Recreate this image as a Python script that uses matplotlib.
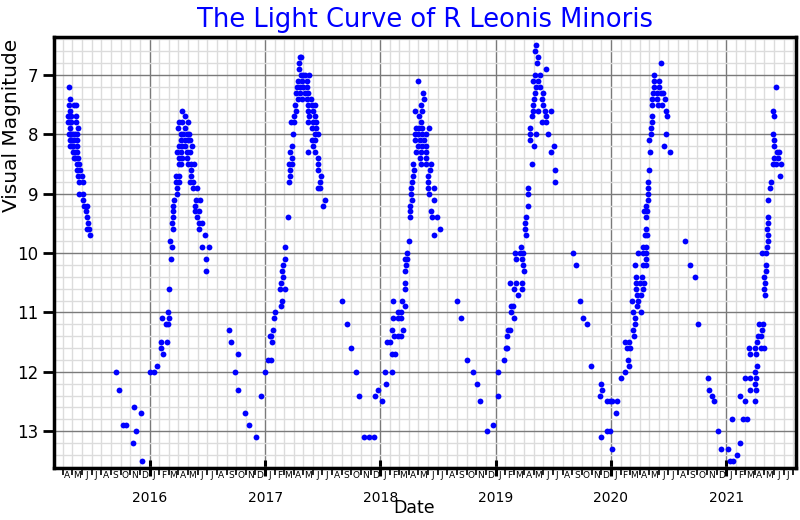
import numpy as np
import pandas as pd
import matplotlib
matplotlib.use("Agg")
import matplotlib.pyplot as plt
import matplotlib.dates as mdates
from matplotlib.ticker import MultipleLocator

# -----------------------------
# DATA: (days since 2015-01-01, visual magnitude)
# -----------------------------
obs_2015 = [(110, 7.2), (113, 7.4), (110, 7.5), (125, 7.5), (133, 7.5), (113, 7.6),
            (107, 7.7), (110, 7.7), (117, 7.7), (131, 7.7), (107, 7.8), (113, 7.8),
            (117, 7.8), (131, 7.8), (113, 7.9), (138, 7.9), (108, 8.0), (113, 8.0),
            (116, 8.0), (121, 8.0), (129, 8.0), (134, 8.0), (113, 8.1), (117, 8.1),
            (125, 8.1), (134, 8.1), (113, 8.2), (118, 8.2), (123, 8.2), (134, 8.2),
            (123, 8.3), (128, 8.3), (134, 8.3), (124, 8.4), (129, 8.4), (139, 8.4),
            (134, 8.5), (142, 8.5), (134, 8.6), (144, 8.6), (139, 8.7), (150, 8.7),
            (142, 8.8), (155, 8.8), (142, 9.0), (155, 9.0), (153, 9.1), (158, 9.2),
            (168, 9.2), (163, 9.3), (168, 9.4), (171, 9.5), (168, 9.6), (174, 9.6),
            (176, 9.7),
            (258, 12.0), (268, 12.3), (280, 12.9), (290, 12.9), (312, 13.2), (315, 12.6),
            (322, 13.0), (337, 12.7), (341, 13.5)]

obs_2016 = [(366, 12.0), (378, 12.0), (388, 11.9), (401, 11.6), (407, 11.7),
            (400, 11.5), (419, 11.5), (416, 11.2), (423, 11.2), (404, 11.1), (427, 11.1),
            (423, 11.0), (425, 10.6), (433, 10.1), (435, 9.9), (431, 9.8), (440, 9.6),
            (437, 9.5), (440, 9.4), (438, 9.3), (440, 9.2), (442, 9.1), (452, 9.0),
            (452, 8.9), (448, 8.8), (457, 8.8), (448, 8.7), (459, 8.7), (457, 8.5),
            (465, 8.5), (459, 8.4), (467, 8.4), (452, 8.3), (465, 8.3), (459, 8.2),
            (469, 8.2), (454, 7.9), (477, 7.9), (457, 7.8), (467, 7.8), (488, 7.8),
            (469, 7.6), (476, 7.7), (463, 8.0), (471, 8.0), (482, 8.0), (490, 8.0),
            (463, 8.1), (476, 8.1), (487, 8.1), (492, 8.1), (478, 8.2), (498, 8.2),
            (482, 8.3), (493, 8.3), (484, 8.4), (486, 8.5), (495, 8.5), (505, 8.5),
            (496, 8.6), (497, 8.7), (493, 8.8), (503, 8.8), (503, 8.9), (516, 8.9),
            (511, 9.1), (524, 9.1), (509, 9.2), (509, 9.3), (520, 9.3), (514, 9.4),
            (520, 9.5), (530, 9.5), (522, 9.6), (541, 9.7), (530, 9.9), (552, 9.9),
            (543, 10.1), (545, 10.3),
            (616, 11.3), (622, 11.5), (635, 12.0), (644, 11.7), (644, 12.3), (667, 12.7),
            (679, 12.9), (701, 13.1), (717, 12.4), (730, 12.0)]

obs_2017 = [(739, 11.8), (749, 11.8), (745, 11.4), (749, 11.4), (752, 11.5), (756, 11.3),
            (758, 11.1), (763, 11.0), (780, 10.9), (784, 10.8), (777, 10.6), (794, 10.6),
            (780, 10.5), (786, 10.4), (784, 10.3), (788, 10.2), (794, 10.1), (793, 9.9),
            (804, 9.4), (807, 8.8), (811, 8.7), (811, 8.6), (807, 8.5), (815, 8.5),
            (815, 8.4), (811, 8.3), (817, 8.2), (820, 8.0), (814, 7.8), (822, 7.8),
            (822, 7.7), (830, 7.6), (825, 7.5), (835, 7.4), (846, 7.4), (862, 7.4),
            (875, 7.4), (830, 7.3), (841, 7.3), (856, 7.3), (867, 7.3), (832, 7.2),
            (841, 7.2), (851, 7.2), (864, 7.2), (835, 7.1), (846, 7.1), (862, 7.1),
            (843, 7.0), (851, 7.0), (858, 7.0), (870, 7.0), (839, 6.9), (839, 6.8),
            (841, 6.7), (844, 6.7), (867, 7.5), (878, 7.5), (888, 7.5), (867, 7.6),
            (883, 7.6), (870, 7.7), (888, 7.7), (867, 7.8), (883, 7.8), (891, 7.8),
            (879, 7.9), (893, 7.9), (888, 8.0), (899, 8.0), (878, 8.1), (889, 8.1),
            (883, 8.2), (867, 8.3), (889, 8.3), (899, 8.4), (899, 8.5), (898, 8.6),
            (907, 8.7), (904, 8.8), (899, 8.9), (904, 8.9), (921, 9.1), (915, 9.2),
            (974, 10.8), (989, 11.2), (1002, 11.6), (1018, 12.0), (1027, 12.4),
            (1043, 13.1), (1059, 13.1), (1075, 13.1)]

obs_2018 = [(1080, 12.4), (1087, 12.3), (1100, 12.5), (1109, 12.0), (1132, 12.0),
            (1113, 12.2), (1134, 11.7), (1142, 11.7), (1117, 11.5), (1125, 11.5),
            (1139, 11.4), (1152, 11.4), (1162, 11.4), (1133, 11.3), (1168, 11.3),
            (1136, 11.1), (1152, 11.1), (1162, 11.1), (1152, 11.0), (1162, 11.0),
            (1173, 10.9), (1136, 10.8), (1164, 10.8), (1175, 10.6), (1173, 10.5),
            (1173, 10.3), (1176, 10.2), (1173, 10.1), (1180, 10.1), (1181, 10.0),
            (1187, 9.8), (1189, 9.3), (1191, 9.4), (1191, 9.2), (1197, 9.1), (1194, 9.0),
            (1193, 8.9), (1197, 8.8), (1199, 8.7), (1201, 8.6), (1199, 8.5), (1208, 8.3),
            (1215, 8.2), (1205, 8.1), (1205, 8.0), (1208, 7.9), (1206, 7.6), (1216, 7.1),
            (1231, 7.3), (1235, 7.4), (1223, 7.5), (1227, 7.6), (1218, 7.7), (1223, 7.8),
            (1218, 7.9), (1229, 7.9), (1250, 7.9), (1215, 8.0), (1229, 8.0), (1239, 8.0),
            (1220, 8.1), (1233, 8.1), (1229, 8.2), (1241, 8.2), (1226, 8.3), (1239, 8.3),
            (1220, 8.4), (1241, 8.4), (1226, 8.5), (1241, 8.5), (1257, 8.5), (1254, 8.6),
            (1247, 8.7), (1248, 8.8), (1247, 8.9), (1266, 8.9), (1250, 9.0), (1265, 9.1),
            (1257, 9.3), (1260, 9.4), (1275, 9.4), (1284, 9.6), (1265, 9.7),
            (1337, 10.8), (1350, 11.1), (1369, 11.8), (1388, 12.0), (1401, 12.2),
            (1410, 12.5), (1435, 13.0), (1454, 12.9)]

obs_2019 = [(1467, 12.0), (1467, 12.4), (1486, 11.8), (1493, 11.6), (1498, 11.6),
            (1497, 11.4), (1500, 11.3), (1507, 11.3), (1518, 11.1), (1511, 11.0),
            (1511, 10.9), (1516, 10.9), (1532, 10.7), (1518, 10.6), (1543, 10.6),
            (1507, 10.5), (1526, 10.5), (1543, 10.5), (1551, 10.3), (1547, 10.2),
            (1524, 10.1), (1543, 10.1), (1521, 10.0), (1537, 10.0), (1547, 10.0),
            (1542, 9.9), (1556, 9.7), (1554, 9.6), (1554, 9.5), (1556, 9.4), (1562, 9.2),
            (1564, 9.0), (1563, 8.9), (1575, 8.5), (1581, 8.2), (1571, 8.1), (1569, 8.0),
            (1590, 8.0), (1571, 7.9), (1577, 7.7), (1579, 7.6), (1595, 7.6), (1579, 7.5),
            (1581, 7.4), (1584, 7.3), (1588, 7.2), (1579, 7.1), (1585, 7.0), (1600, 7.0),
            (1595, 7.1), (1602, 7.2), (1611, 7.3), (1609, 7.4), (1611, 7.5), (1616, 7.6),
            (1637, 7.6), (1619, 7.7), (1609, 7.8), (1621, 7.8), (1628, 8.0), (1645, 8.2),
            (1636, 8.3), (1649, 8.6), (1649, 8.8), (1592, 6.8), (1596, 6.7), (1584, 6.6),
            (1590, 6.5), (1619, 6.9),
            (1705, 10.0), (1717, 10.2), (1727, 10.8), (1737, 11.1), (1749, 11.2),
            (1762, 11.9)]

obs_2020 = [(1790, 12.4), (1796, 12.2), (1799, 12.3), (1796, 13.1), (1813, 12.5),
            (1822, 12.5), (1830, 12.5), (1813, 13.0), (1822, 13.0), (1830, 13.3),
            (1841, 12.7), (1845, 12.5), (1858, 12.1), (1870, 12.0), (1872, 11.5),
            (1883, 11.5), (1877, 11.6), (1885, 11.6), (1880, 11.8), (1883, 11.9),
            (1896, 11.3), (1900, 11.4), (1902, 11.2), (1902, 11.1), (1896, 11.0),
            (1921, 11.0), (1910, 10.9), (1894, 10.8), (1913, 10.8), (1909, 10.7),
            (1921, 10.7), (1906, 10.6), (1927, 10.6), (1906, 10.5), (1917, 10.5),
            (1930, 10.5), (1904, 10.4), (1923, 10.4), (1903, 10.2), (1927, 10.2),
            (1938, 10.2), (1936, 10.1), (1912, 10.0), (1929, 10.0), (1936, 10.0),
            (1928, 9.9), (1938, 9.9), (1933, 9.7), (1940, 9.7), (1938, 9.6), (1937, 9.4),
            (1932, 9.3), (1940, 9.3), (1938, 9.2), (1942, 9.1), (1945, 9.0), (1943, 8.9),
            (1942, 8.8), (1947, 8.6), (1951, 8.3), (1947, 8.1), (1954, 8.0), (1953, 7.9),
            (1955, 7.8), (1957, 7.7), (1957, 7.5), (1957, 7.4), (1959, 7.3), (1964, 7.2),
            (1963, 7.1), (1963, 7.0), (1986, 6.8), (1978, 7.1), (1978, 7.2), (1972, 7.3),
            (1986, 7.3), (1991, 7.3), (1972, 7.4), (1997, 7.4), (1975, 7.5), (1989, 7.5),
            (1999, 7.6), (2003, 7.7), (2001, 8.0), (1995, 8.2), (2012, 8.3),
            (2062, 9.8), (2075, 10.2), (2091, 10.4), (2103, 11.2), (2132, 12.1),
            (2138, 12.3), (2145, 12.4), (2154, 12.5), (2164, 13.0)]

obs_2021 = [(2175, 13.3), (2196, 13.3), (2202, 13.5), (2214, 13.5), (2226, 13.4),
            (2236, 13.2), (2209, 12.8), (2243, 12.8), (2258, 12.8), (2236, 12.4),
            (2252, 12.5), (2283, 12.5), (2266, 12.3), (2285, 12.3), (2281, 12.2),
            (2251, 12.1), (2265, 12.1), (2285, 12.1), (2281, 12.0), (2288, 11.9),
            (2268, 11.7), (2287, 11.7), (2263, 11.6), (2281, 11.6), (2302, 11.6),
            (2310, 11.6), (2289, 11.5), (2293, 11.4), (2300, 11.4), (2304, 11.3),
            (2295, 11.2), (2309, 11.2), (2314, 10.7), (2310, 10.6), (2314, 10.5),
            (2312, 10.4), (2317, 10.3), (2317, 10.2), (2304, 10.0), (2318, 10.0),
            (2320, 9.9), (2325, 9.8), (2325, 9.7), (2321, 9.6), (2325, 9.5), (2323, 9.4),
            (2323, 9.1), (2331, 8.9), (2333, 8.8), (2361, 8.7), (2340, 8.5), (2348, 8.5),
            (2365, 8.5), (2342, 8.4), (2355, 8.4), (2352, 8.3), (2359, 8.3), (2342, 8.2),
            (2342, 8.1), (2340, 8.0), (2344, 7.7), (2340, 7.6), (2350, 7.2)]

month_letters = ["J", "F", "M", "A", "M", "J", "J", "A", "S", "O", "N", "D"]

# -----------------------------
# PLOT
# -----------------------------
base = np.datetime64("2015-01-01")
all_obs = obs_2015 + obs_2016 + obs_2017 + obs_2018 + obs_2019 + obs_2020 + obs_2021
days = np.array([d for d, _ in all_obs])
mags = np.array([m for _, m in all_obs])
dates = base + days.astype("timedelta64[D]")

fig = plt.figure(figsize=(8, 5.2), dpi=100)
ax = fig.add_axes([0.0675, 0.10, 0.927, 0.829])

ax.plot(dates, mags, "o", color="blue", ms=4.2, mew=0)

ax.set_xlim(np.datetime64("2015-03-04"), np.datetime64("2021-08-08"))
ax.set_ylim(13.62, 6.36)

ax.xaxis.set_major_locator(mdates.YearLocator())
ax.xaxis.set_major_formatter(mdates.DateFormatter("%Y"))
ax.xaxis.set_minor_locator(mdates.MonthLocator())
ax.yaxis.set_major_locator(MultipleLocator(1))
ax.yaxis.set_minor_locator(MultipleLocator(0.2))

ax.set_axisbelow(True)
ax.grid(which="major", color="#7a7a7a", lw=1)
ax.grid(which="minor", color="#dcdcdc", lw=1)

ax.tick_params(axis="x", which="major", direction="inout", length=11, width=2.2,
               pad=11, labelsize=10)
ax.tick_params(axis="x", which="minor", direction="out", length=5, width=1.2)
ax.tick_params(axis="y", which="major", direction="out", length=8, width=2,
               labelsize=12)
ax.tick_params(axis="y", which="minor", length=0)

for s in ax.spines.values():
    s.set_linewidth(2.5)

# month initials between the monthly ticks
mids = pd.date_range("2015-04-01", "2021-07-01", freq="MS") + pd.Timedelta(days=14)
for m in mids:
    ax.text(m, -0.008, month_letters[m.month - 1], transform=ax.get_xaxis_transform(),
            ha="center", va="top", fontsize=6.5)

ax.set_title("The Light Curve of R Leonis Minoris", color="blue", fontsize=18.5, pad=7)
ax.set_ylabel("Visual Magnitude", fontsize=14.5)
ax.yaxis.set_label_coords(-0.045, 0.795)
ax.set_xlabel("Date", fontsize=12.5)
ax.xaxis.set_label_coords(0.485, -0.072)

fig.savefig("out.png", dpi=100)
